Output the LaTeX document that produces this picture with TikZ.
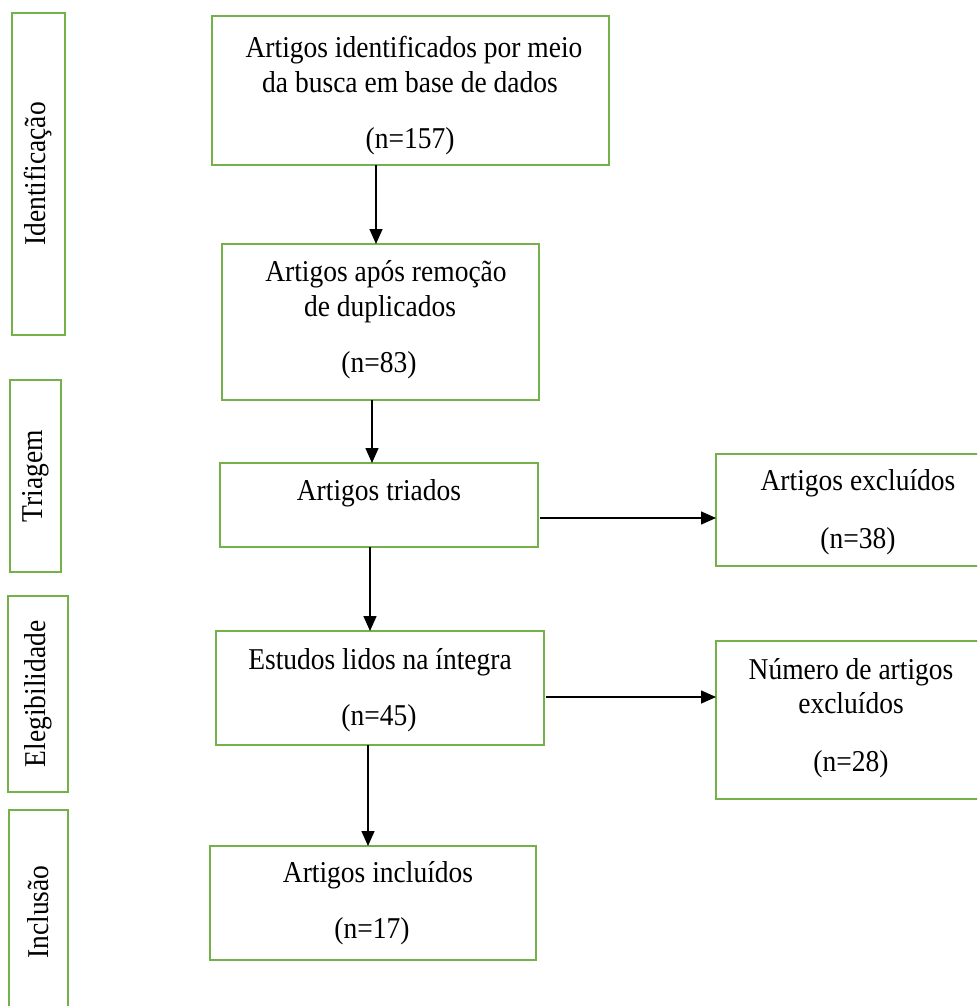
\documentclass[tikz,border=0pt]{standalone}
\usepackage{fontspec}
\usepackage{graphicx}
\setmainfont{Liberation Serif}
\usetikzlibrary{arrows.meta}
\definecolor{boxgreen}{HTML}{74B14B}
\newcommand{\tallt}[1]{\scalebox{1}[1.1]{#1}}
\tikzset{
  gbox/.style={draw=boxgreen, line width=2pt, rectangle, inner sep=0pt, outer sep=0pt},
  txt/.style={anchor=base, inner sep=0pt, font=\fontsize{27.5}{33}\selectfont},
  side/.style={rotate=90, inner sep=0pt, font=\fontsize{27.5}{33}\selectfont},
  arr/.style={draw=black, line width=1.5pt, -{Triangle[length=15pt,width=13pt]}}
}
\begin{document}
\begin{tikzpicture}[x=1pt,y=-1pt]
\useasboundingbox (0,0) rectangle (977,1006);
\clip (0,0) rectangle (977,1006);
% side boxes
\node[gbox, minimum width=53pt, minimum height=322pt] (sid) at (38.5,174) {};
\node[gbox, minimum width=51pt, minimum height=192pt] (str) at (35.5,476) {};
\node[gbox, minimum width=60pt, minimum height=196pt] (sel) at (38,694) {};
\node[gbox, minimum width=59pt, minimum height=204pt] (sin) at (38.5,912) {};
\node[side] (lid) at (sid.center) {\tallt{Identificação}};
\node[side] (ltr) at (str.center) {\tallt{Triagem}};
\node[side] (lel) at (sel.center) {\tallt{Elegibilidade}};
\node[side] (lin) at (sin.center) {\tallt{Inclusão}};
% main boxes
\node[gbox, minimum width=397pt, minimum height=149pt] (b1) at (410.5,90.5) {};
\node[gbox, minimum width=317pt, minimum height=156pt] (b2) at (380.5,322) {};
\node[gbox, minimum width=318pt, minimum height=84pt] (b3) at (379,505) {};
\node[gbox, minimum width=328pt, minimum height=114pt] (b4) at (380,688) {};
\node[gbox, minimum width=326pt, minimum height=114pt] (b5) at (373,903) {};
\node[gbox, minimum width=284pt, minimum height=112pt] (e1) at (858,510) {};
\node[gbox, minimum width=270pt, minimum height=158pt] (e2) at (851,720) {};
% texts
\node[txt] (t11) at (414,58) {\tallt{Artigos identificados por meio}};
\node[txt] (t12) at (410,93) {\tallt{da busca em base de dados}};
\node[txt] (t13) at (410,149) {\tallt{(n=157)}};
\node[txt] (t21) at (386,281) {\tallt{Artigos após remoção}};
\node[txt] (t22) at (380,316) {\tallt{de duplicados}};
\node[txt] (t23) at (379,372) {\tallt{(n=83)}};
\node[txt] (t31) at (379,500) {\tallt{Artigos triados}};
\node[txt] (t41) at (380,669) {\tallt{Estudos lidos na íntegra}};
\node[txt] (t42) at (379,725) {\tallt{(n=45)}};
\node[txt] (t51) at (378,882) {\tallt{Artigos incluídos}};
\node[txt] (t52) at (372,938) {\tallt{(n=17)}};
\node[txt] (t61) at (858,490) {\tallt{Artigos excluídos}};
\node[txt] (t62) at (858,548) {\tallt{(n=38)}};
\node[txt] (t71) at (851,679) {\tallt{Número de artigos}};
\node[txt] (t72) at (851,713) {\tallt{excluídos}};
\node[txt] (t73) at (851,771) {\tallt{(n=28)}};
% connector guides
\coordinate (a1) at (376,0);
\coordinate (a2) at (372,0);
\coordinate (a3) at (370,0);
\coordinate (a4) at (368,0);
\coordinate (h1) at (0,518);
\coordinate (h2) at (0,697);
% connectors
\draw[arr] (b1.south -| a1) -- (b2.north -| a1);
\draw[arr] (b2.south -| a2) -- (b3.north -| a2);
\draw[arr] (b3.south -| a3) -- (b4.north -| a3);
\draw[arr] (b4.south -| a4) -- (b5.north -| a4);
\draw[arr] (b3.east |- h1) ++(2,0) -- (e1.west |- h1);
\draw[arr] (b4.east |- h2) ++(2,0) -- (e2.west |- h2);
\end{tikzpicture}
\end{document}
